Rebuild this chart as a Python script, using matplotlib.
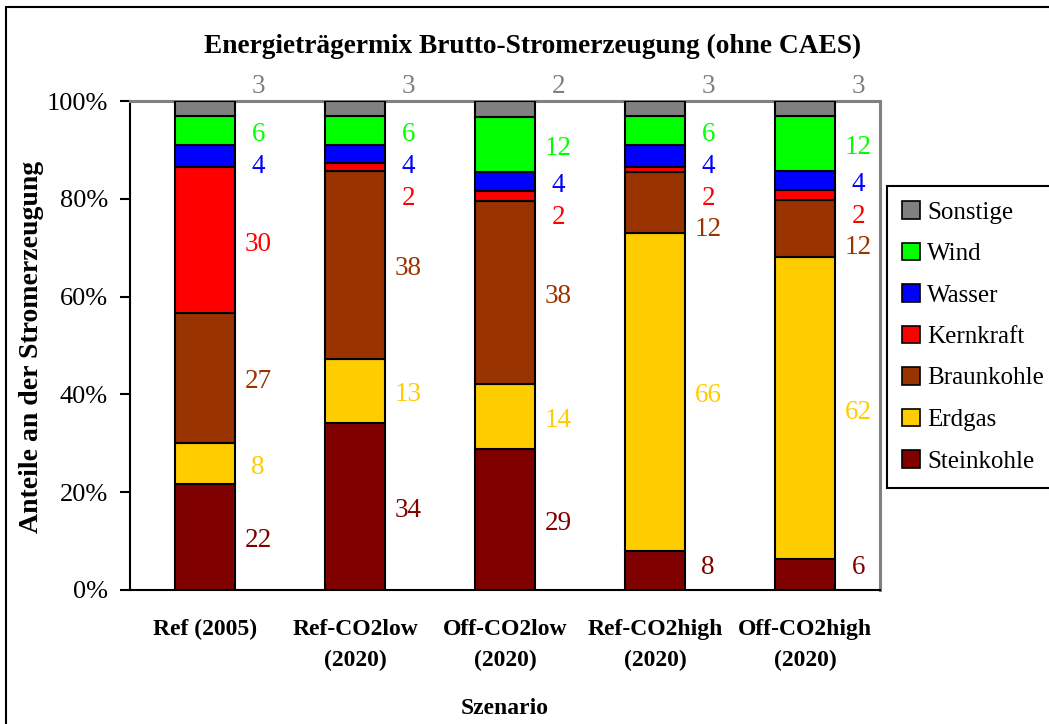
import matplotlib
matplotlib.use("Agg")
import matplotlib.pyplot as plt
from matplotlib.patches import Patch, Rectangle
import numpy as np

plt.rcParams['font.family'] = ['Liberation Serif', 'DejaVu Serif']

# ---------------- data ----------------
categories = ['Ref (2005)', 'Ref-CO2low\n(2020)', 'Off-CO2low\n(2020)',
              'Ref-CO2high\n(2020)', 'Off-CO2high\n(2020)']
series = ['Steinkohle', 'Erdgas', 'Braunkohle', 'Kernkraft', 'Wasser', 'Wind', 'Sonstige']

steinkohle = [21.7, 34.2, 28.8, 8.0, 6.3]
erdgas     = [8.4, 13.0, 13.4, 65.0, 61.8]
braunkohle = [26.5, 38.5, 37.4, 12.5, 11.7]
kernkraft  = [29.9, 1.6, 2.0, 1.0, 2.0]
wasser     = [4.5, 3.7, 3.9, 4.5, 3.9]
wind       = [5.9, 5.9, 11.2, 5.9, 11.2]
sonstige   = [3.1, 3.1, 3.3, 3.1, 3.1]

# printed data labels
lab_steinkohle = [22, 34, 29, 8, 6]
lab_erdgas     = [8, 13, 14, 66, 62]
lab_braunkohle = [27, 38, 38, 12, 12]
lab_kernkraft  = [30, 2, 2, 2, 2]
lab_wasser     = [4, 4, 4, 4, 4]
lab_wind       = [6, 6, 12, 6, 12]
lab_sonstige   = [3, 3, 2, 3, 3]

values = [steinkohle, erdgas, braunkohle, kernkraft, wasser, wind, sonstige]
labels = [lab_steinkohle, lab_erdgas, lab_braunkohle, lab_kernkraft,
          lab_wasser, lab_wind, lab_sonstige]
colors = ['#800000', '#FFCC00', '#993300', '#FF0000', '#0000FF', '#00FF00', '#808080']

yticks = [0, 20, 40, 60, 80, 100]
ytick_labels = ['0%', '20%', '40%', '60%', '80%', '100%']

# ---------------- figure ----------------
W, H = 1049, 724
fig = plt.figure(figsize=(W / 100, H / 100), dpi=100)
ax = fig.add_axes([130 / W, 1 - 590 / H, 750 / W, 489 / H])

x = np.arange(len(categories))
vals = np.array(values, dtype=float)
tot = vals.sum(axis=0)
pct = vals / tot * 100
bottom = np.zeros(len(categories))
for i, name in enumerate(series):
    ax.bar(x, pct[i], 0.4, bottom=bottom, color=colors[i], edgecolor='black',
           linewidth=1.5, label=name, zorder=3)
    bottom += pct[i]

# data labels: placed beside bar, de-overlapped from the top down
cum = np.cumsum(pct, axis=0)
for j in range(len(categories)):
    prev = 103.0
    ax.text(x[j] + 0.355, prev, str(labels[-1][j]), color=colors[-1], fontsize=19.5,
            ha='center', va='center', clip_on=False)
    for i in range(len(series) - 2, -1, -1):
        mid = cum[i][j] - pct[i][j] / 2 - 0.8
        y = min(mid, prev - 6.5)
        y = max(y, 4.5)
        ax.text(x[j] + 0.355, y, str(labels[i][j]), color=colors[i], fontsize=19.5,
                ha='center', va='center', clip_on=False)
        prev = y

ax.set_xlim(-0.5, len(categories) - 0.5)
ax.set_ylim(0, 100)
ax.set_yticks(yticks)
ax.set_yticklabels(ytick_labels, fontsize=19)
ax.set_xticks(x)
ax.set_xticklabels(categories, fontsize=17, fontweight='bold', linespacing=1.6)
ax.tick_params(axis='x', length=0, pad=21)
ax.tick_params(axis='y', length=7, width=1.5, pad=9, direction='out')

for s in ['left', 'bottom']:
    ax.spines[s].set_color('black')
    ax.spines[s].set_linewidth(1.5)
for s in ['top', 'right']:
    ax.spines[s].set_color('#808080')
    ax.spines[s].set_linewidth(2.2)

fig.text(533 / W, 1 - 46 / H, 'Energieträgermix Brutto-Stromerzeugung (ohne CAES)',
         fontsize=19.7, fontweight='bold', ha='center', va='center')
fig.text(505 / W, 1 - 708 / H, 'Szenario', fontsize=17, fontweight='bold',
         ha='center', va='center')
fig.text(32 / W, 1 - 347 / H, 'Anteile an der Stromerzeugung', fontsize=20,
         fontweight='bold', ha='center', va='center', rotation=90)

handles = [Patch(facecolor=colors[i], edgecolor='black', linewidth=1.2, label=series[i])
           for i in range(len(series) - 1, -1, -1)]
leg = fig.legend(handles=handles, loc='upper left', bbox_to_anchor=(887 / W, 1 - 186 / H),
                 bbox_transform=fig.transFigure, fontsize=18, frameon=True,
                 fancybox=False, edgecolor='black', framealpha=1,
                 handlelength=0.7, handleheight=0.7, handletextpad=0.3,
                 labelspacing=0.76, borderpad=0.6, borderaxespad=0)
leg.get_frame().set_linewidth(1.5)

fig.patches.append(Rectangle((6 / W, -0.1), 1.2, 1.1 - 7 / H, transform=fig.transFigure,
                             fill=False, edgecolor='black', linewidth=1.5))

fig.savefig('out.png', dpi=100)
